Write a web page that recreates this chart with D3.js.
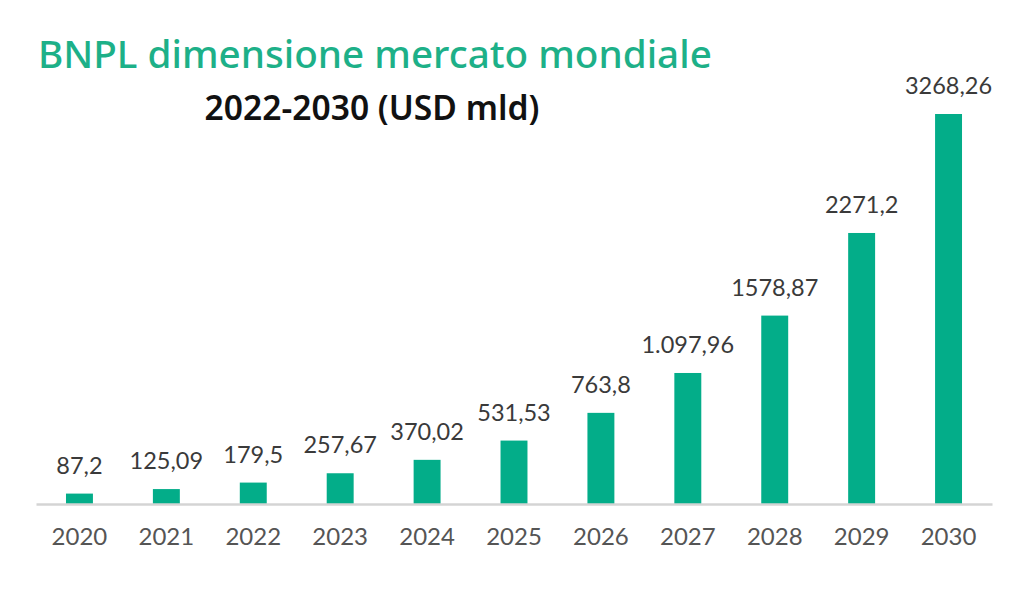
<!DOCTYPE html>
<html><head><meta charset="utf-8">
<script src="https://cdn.jsdelivr.net/npm/d3@7"></script>
<style>body{margin:0;background:#fff}svg{display:block}</style>
</head><body><svg id="c" width="1024" height="595"></svg>
<script>
const years = ["2020","2021","2022","2023","2024","2025","2026","2027","2028","2029","2030"];
const values = [87.2,125.09,179.5,257.67,370.02,531.53,763.8,1097.96,1578.87,2271.2,3268.26];
const valueLabels = ["87,2","125,09","179,5","257,67","370,02","531,53","763,8","1.097,96","1578,87","2271,2","3268,26"];
const title = "BNPL dimensione mercato mondiale";
const subtitle = "2022-2030 (USD mld)";

const svg = d3.select("#c");
const green = "#03ad89";
const font = "Lato, 'Open Sans', sans-serif";

const x = d3.scaleBand().domain(years).range([36, 992]).paddingInner(0.69).paddingOuter(0.345);
const y = d3.scaleLinear().domain([0, 3268.26]).range([504, 114]);

function fit(sel, target) {
  const w = sel.node().getComputedTextLength();
  const fs = parseFloat(sel.attr("font-size"));
  sel.attr("font-size", fs * target / w);
}

const t = svg.append("text").attr("x", 38).attr("y", 68).text(title)
  .attr("fill", "#1db088").attr("font-family", "'Noto Sans', sans-serif").attr("font-weight", 500).attr("font-size", 36);
fit(t, 674);
const st = svg.append("text").attr("x", 372).attr("y", 120).attr("text-anchor","middle").text(subtitle)
  .attr("fill", "#111").attr("font-family", "'Noto Sans', sans-serif").attr("font-weight", 600).attr("font-size", 28);
fit(st, 335);

svg.selectAll("rect.bar").data(values).join("rect").attr("class","bar")
  .attr("x", (d,i)=>x(years[i])).attr("width", x.bandwidth())
  .attr("y", d=>y(d)).attr("height", d=>y(0)-y(d)).attr("fill", green);

const axis = svg.append("g").attr("transform", `translate(0,${y(0)})`)
  .call(d3.axisBottom(x).tickSize(0).tickPadding(24));
axis.select(".domain").attr("stroke", "#d4d4d4").attr("stroke-width", 2.5);
axis.selectAll("text").attr("font-family", font).attr("font-size", 24).attr("fill", "#555");

svg.selectAll("text.val").data(values).join("text").attr("class","val")
  .attr("x", (d,i)=>x(years[i]) + x.bandwidth()/2).attr("y", d=>y(d)-20)
  .attr("text-anchor","middle").text((d,i)=>valueLabels[i])
  .attr("font-family", font).attr("font-size", 23.5).attr("fill", "#3a3a3a");
</script></body></html>
